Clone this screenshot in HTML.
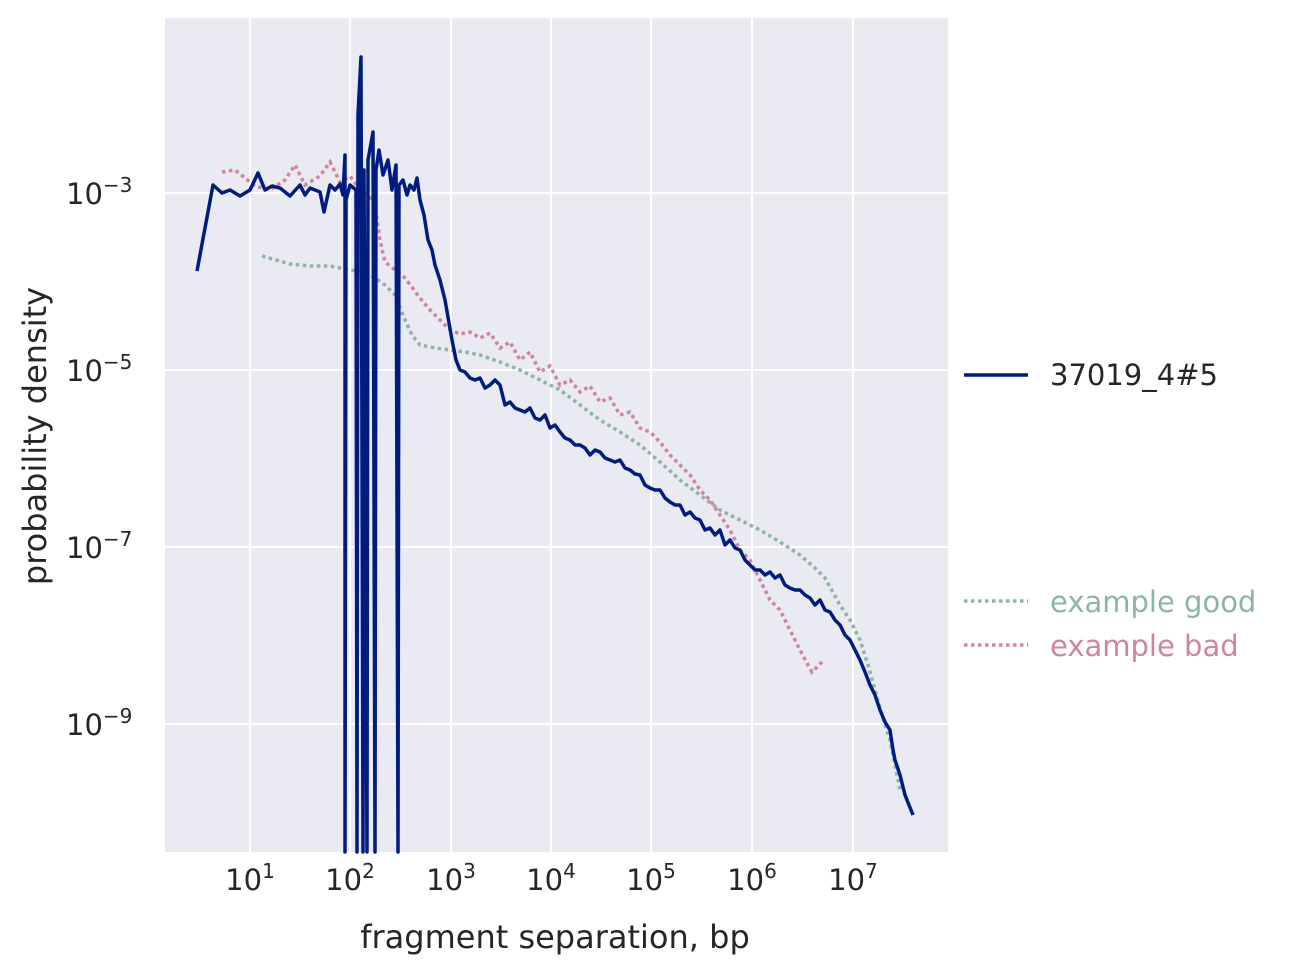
<!DOCTYPE html>
<html><head><meta charset="utf-8"><style>
body{margin:0;background:#fff;}
svg{display:block;font-family:"DejaVu Sans","Liberation Sans",sans-serif;}
</style></head><body>
<svg width="1295" height="976" viewBox="0 0 1295 976">
<rect x="165" y="18" width="783" height="834" fill="#EAEAF2"/>
<g stroke="#fff" stroke-width="2">
<line x1="250" y1="18" x2="250" y2="852"/><line x1="350" y1="18" x2="350" y2="852"/>
<line x1="451" y1="18" x2="451" y2="852"/><line x1="551" y1="18" x2="551" y2="852"/>
<line x1="651" y1="18" x2="651" y2="852"/><line x1="752" y1="18" x2="752" y2="852"/>
<line x1="853" y1="18" x2="853" y2="852"/>
<line x1="165" y1="193" x2="948" y2="193"/><line x1="165" y1="370" x2="948" y2="370"/>
<line x1="165" y1="547" x2="948" y2="547"/><line x1="165" y1="724" x2="948" y2="724"/>
</g>
<g fill="#262626" font-size="29">
<text x="250" y="890" text-anchor="middle">10<tspan font-size="20" dy="-12">1</tspan></text>
<text x="350" y="890" text-anchor="middle">10<tspan font-size="20" dy="-12">2</tspan></text>
<text x="451" y="890" text-anchor="middle">10<tspan font-size="20" dy="-12">3</tspan></text>
<text x="551" y="890" text-anchor="middle">10<tspan font-size="20" dy="-12">4</tspan></text>
<text x="651" y="890" text-anchor="middle">10<tspan font-size="20" dy="-12">5</tspan></text>
<text x="752" y="890" text-anchor="middle">10<tspan font-size="20" dy="-12">6</tspan></text>
<text x="853" y="890" text-anchor="middle">10<tspan font-size="20" dy="-12">7</tspan></text>
<text x="66" y="204">10<tspan font-size="20" dy="-12">−3</tspan></text>
<text x="66" y="381">10<tspan font-size="20" dy="-12">−5</tspan></text>
<text x="66" y="558">10<tspan font-size="20" dy="-12">−7</tspan></text>
<text x="66" y="735">10<tspan font-size="20" dy="-12">−9</tspan></text>
<text x="555" y="948" text-anchor="middle" font-size="32">fragment separation, bp</text>
<text transform="translate(46,436) rotate(-90)" text-anchor="middle" font-size="32">probability density</text>
</g>
<path fill="none" stroke="#8DB4A8" stroke-width="3.5" stroke-dasharray="3.5,3.5" d="M262,256 L290,264 L310,266 L330,266 L350,270 L365,272 L375,278 L385,285 L395,295 L405,320 L412,335 L420,345 L435,348 L450,350 L465,352 L480,355 L500,362 L520,370 L540,380 L560,390 L580,405 L600,420 L620,432 L640,445 L660,462 L680,480 L700,495 L720,510 L740,520 L760,530 L780,542 L800,555 L815,568 L825,578 L840,605 L850,620 L860,640 L868,665 L875,690 L882,715 L890,740 L900,790"/>
<path fill="none" stroke="#D0849F" stroke-width="3.5" stroke-dasharray="3.5,3.5" d="M222,172 L235,170 L245,178 L255,186 L270,190 L285,180 L295,165 L305,185 L320,176 L330,162 L340,182 L350,176 L360,190 L368,195 L375,205 L380,240 L385,262 L395,270 L405,278 L420,298 L430,310 L440,320 L450,330 L460,334 L470,332 L480,338 L490,333 L500,348 L510,342 L520,360 L530,352 L540,372 L550,366 L560,385 L570,380 L580,392 L590,386 L600,402 L610,398 L620,415 L630,412 L640,428 L650,432 L660,442 L670,455 L680,465 L690,475 L700,490 L710,500 L720,515 L730,530 L740,550 L750,560 L760,580 L770,600 L780,610 L790,630 L800,650 L808,665 L812,672 L822,662"/>
<path fill="none" stroke="#001C7F" stroke-width="3.5" stroke-linejoin="round" d="M197,271 L213,185 L222,193 L230,190 L240,196 L250,190 L258,173 L265,190 L272,186 L280,188 L290,196 L300,185 L305,195 L310,188 L320,192 L324,212 L330,185 L335,190 L340,184 L343,195 L345,155 L345,852 L346,200 L350,185 L356,190 L357,852 L358,115 L361,57 L363,852 L364,170 L367,852 L368,160 L373,132 L375,852 L376,170 L379,150 L383,175 L388,160 L392,190 L396,165 L398,852 L399,185 L403,180 L407,195 L410,185 L414,190 L417,178 L420,200 L424,215 L428,240 L432,250 L435,265 L440,280 L445,300 L452,340 L456,360 L460,370 L465,372 L470,378 L475,380 L480,378 L485,388 L490,385 L495,380 L500,385 L505,405 L510,402 L515,408 L520,410 L525,412 L530,408 L535,418 L540,420 L545,415 L550,428 L555,425 L560,432 L565,438 L570,440 L575,445 L580,445 L585,448 L590,455 L595,450 L600,452 L605,458 L610,460 L615,462 L620,460 L625,468 L630,470 L635,474 L640,475 L645,485 L650,488 L655,490 L660,490 L665,498 L670,502 L675,505 L680,505 L685,515 L690,512 L695,518 L700,520 L705,530 L710,528 L715,535 L720,530 L725,545 L730,540 L735,548 L740,550 L745,560 L750,565 L755,570 L760,570 L765,575 L770,572 L775,578 L780,575 L785,585 L790,588 L795,590 L800,590 L805,595 L810,598 L815,605 L820,600 L825,610 L830,612 L835,620 L840,625 L845,635 L850,640 L855,650 L860,660 L865,672 L870,685 L875,695 L880,710 L885,722 L890,730 L893,750 L895,760 L900,775 L905,795 L913,815"/>
<line x1="964" y1="375" x2="1028" y2="375" stroke="#001C7F" stroke-width="3.5"/>
<text x="1050" y="385" font-size="29" fill="#262626">37019_4#5</text>
<line x1="964" y1="601" x2="1028" y2="601" stroke="#8DB4A8" stroke-width="3.5" stroke-dasharray="3.5,3.5"/>
<text x="1050" y="612" font-size="29" fill="#8DB4A8">example good</text>
<line x1="964" y1="645" x2="1028" y2="645" stroke="#D0849F" stroke-width="3.5" stroke-dasharray="3.5,3.5"/>
<text x="1050" y="656" font-size="29" fill="#D0849F">example bad</text>
</svg>
</body></html>
